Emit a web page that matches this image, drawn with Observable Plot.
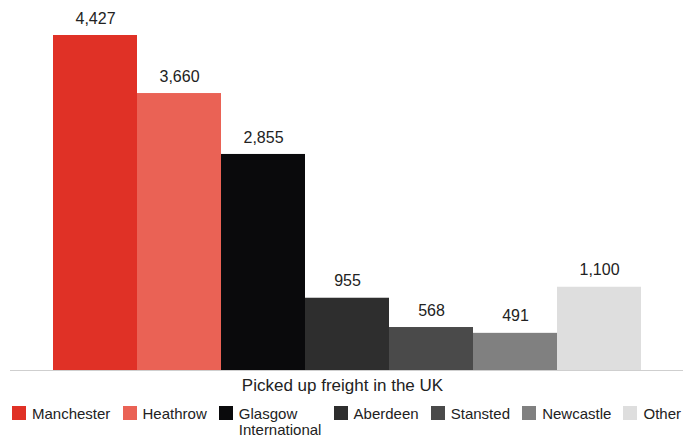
<!DOCTYPE html>
<html>
<head>
<meta charset="utf-8">
<script src="https://cdn.jsdelivr.net/npm/d3@7"></script>
<script src="https://cdn.jsdelivr.net/npm/@observablehq/plot@0.6"></script>
<style>
  html, body { margin: 0; padding: 0; background: #fff; width: 685px; height: 439px; overflow: hidden; }
  body { font-family: "Liberation Sans", Arial, Helvetica, sans-serif; color: #222; }
  #chart svg { display: block; }
  #title { text-align: center; font-size: 17px; line-height: 18px; margin-top: 3px; }
  #legend { display: flex; justify-content: space-between; align-items: flex-start; margin-top: 11px; padding-left: 12px; padding-right: 4px; font-size: 15px; line-height: 16px; }
  .item { display: flex; align-items: flex-start; }
  .sw { width: 14px; height: 14px; margin-right: 6px; flex: none; }
  .lbl { width: min-content; white-space: normal; }
</style>
</head>
<body>
<div id="chart"></div>
<div id="title"></div>
<div id="legend"></div>
<script>
const categories = ["Manchester", "Heathrow", "Glasgow International", "Aberdeen", "Stansted", "Newcastle", "Other"];
const values = [4427, 3660, 2855, 955, 568, 491, 1100];
const colors = ["#e03126", "#ea6255", "#0a0a0c", "#2e2e2e", "#4a4a4a", "#808080", "#dedede"];
const axisTitle = "Picked up freight in the UK";

const data = categories.map((c, i) => ({category: c, value: values[i]}));

const chart = Plot.plot({
  width: 685,
  height: 374,
  marginTop: 10,
  marginBottom: 4,
  marginLeft: 10,
  marginRight: 2,
  x: {domain: categories, range: [52, 641], padding: 0, axis: null},
  y: {domain: [0, 4427], range: [370, 35], axis: null},
  color: {domain: categories, range: colors},
  style: {fontFamily: "'Liberation Sans', Arial, Helvetica, sans-serif"},
  marks: [
    Plot.barY(data, {x: "category", y: "value", fill: "category"}),
    Plot.ruleY([0], {stroke: "#cfcfcf", strokeWidth: 1}),
    Plot.text(data, {x: "category", y: "value", text: d => d3.format(",")(d.value), dy: -17, fontSize: 16, fill: "#222"})
  ]
});
document.getElementById("chart").appendChild(chart);
document.getElementById("title").textContent = axisTitle;

const legend = document.getElementById("legend");
categories.forEach((c, i) => {
  const item = document.createElement("div");
  item.className = "item";
  const sw = document.createElement("div");
  sw.className = "sw";
  sw.style.background = colors[i];
  const lbl = document.createElement("div");
  lbl.className = "lbl";
  lbl.textContent = c;
  item.appendChild(sw);
  item.appendChild(lbl);
  legend.appendChild(item);
});
</script>
</body>
</html>
